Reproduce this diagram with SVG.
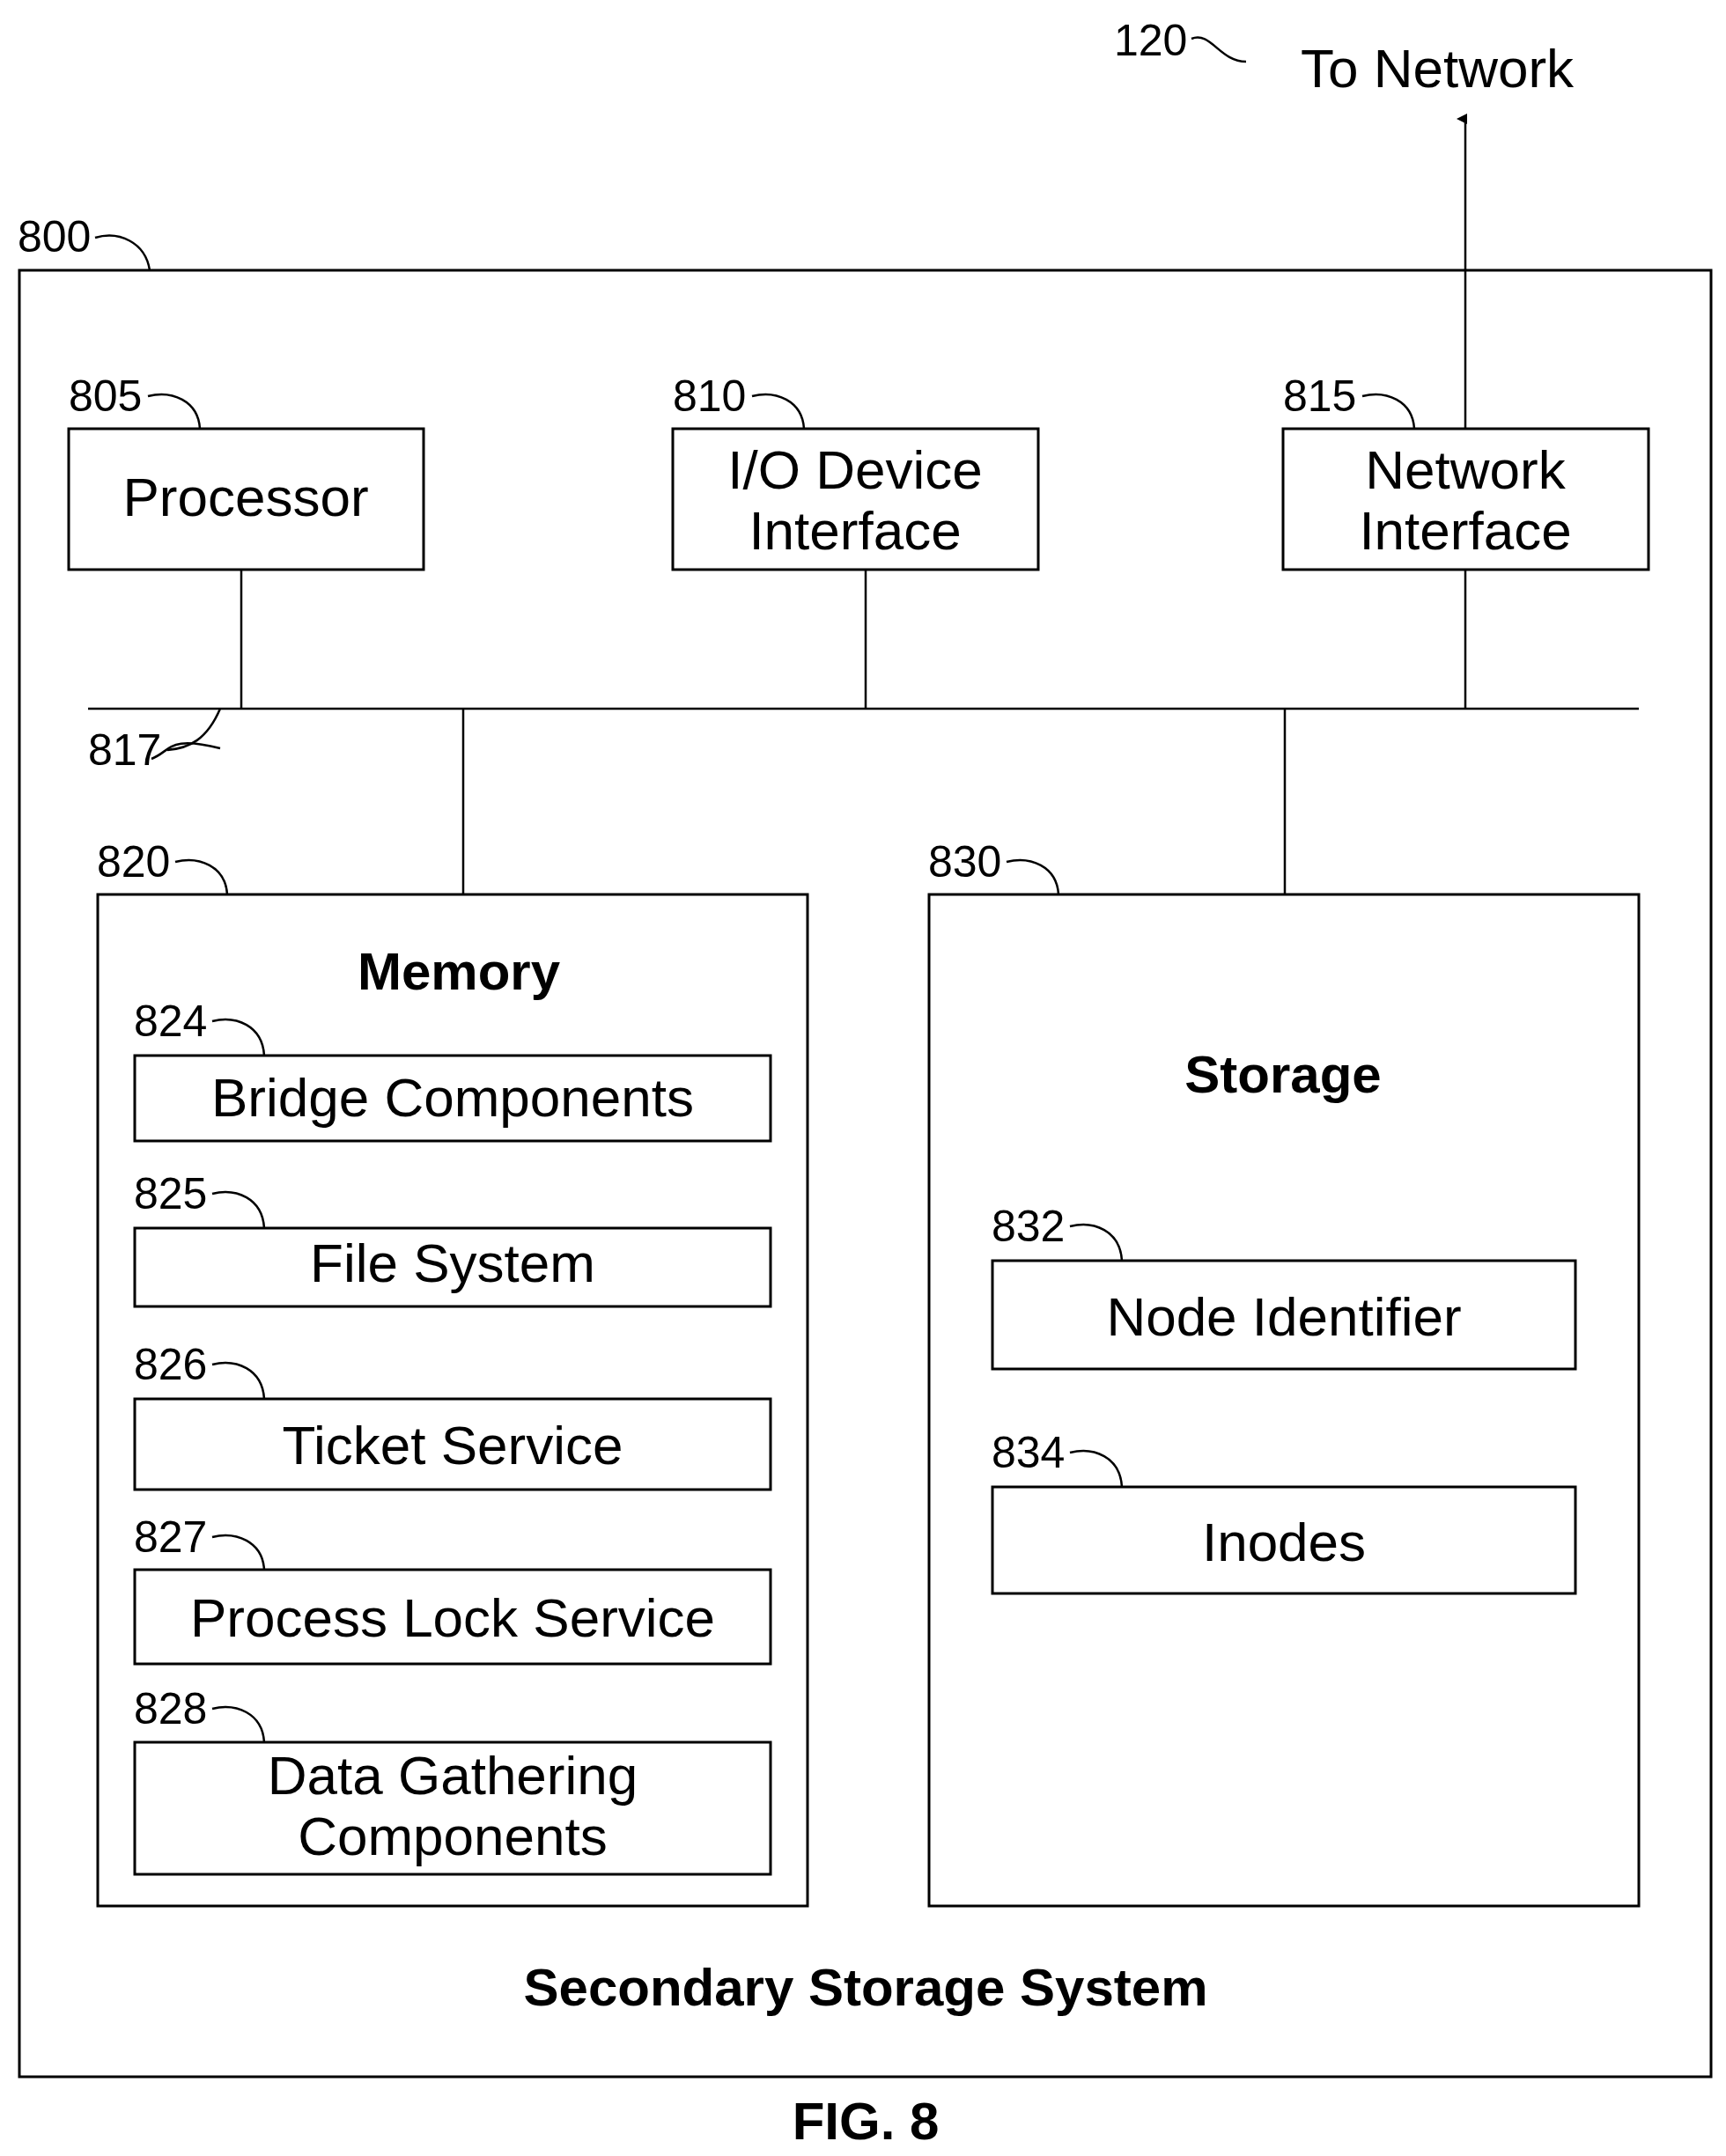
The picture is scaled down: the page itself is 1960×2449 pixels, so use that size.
<svg xmlns="http://www.w3.org/2000/svg" width="1960" height="2449" viewBox="0 0 1960 2449">
<style>
.b{fill:none;stroke:#000;stroke-width:3}
.l{fill:none;stroke:#000;stroke-width:2.5}
.n{font-family:"Liberation Sans",Arial,sans-serif;font-size:50px;fill:#000}
.t{font-family:"Liberation Sans",Arial,sans-serif;font-size:62px;fill:#000;text-anchor:middle}
.h{font-family:"Liberation Sans",Arial,sans-serif;font-size:60px;font-weight:bold;fill:#000;text-anchor:middle}
</style>
<defs><marker id="a" markerWidth="12" markerHeight="12" refX="6" refY="10" orient="auto" markerUnits="userSpaceOnUse" viewBox="0 0 12 12"><path d="M0,12 L6,0 L12,12 Z" fill="#000"/></marker></defs>
<rect width="1960" height="2449" fill="#fff"/>
<g id="connectors">
<path class="l" d="M274,647V805M983,647V805M1664,647V805M100,805H1861M526,805V1016M1459,805V1016"/>
<path class="l" d="M1664,487V135" marker-end="url(#a)"/>
<path class="l" d="M172,817 C195,808 190,790 250,805" transform="translate(0,45) rotate(0)"/>
</g>
<g id="n800"><rect class="b" x="22" y="307" width="1921" height="2052"/><text class="n" x="20" y="286">800</text><path class="l" d="M108,270 C135,262 165,275 170,307"/>
<text class="h" x="983" y="2278">Secondary Storage System</text></g>
<g id="n120"><text class="n" x="1265" y="63">120</text><path class="l" d="M1353,44 C1375,35 1385,70 1415,70"/><text class="t" x="1477" y="99" text-anchor="start" style="text-anchor:start">To Network</text></g>
<g id="n805"><rect class="b" x="78" y="487" width="403" height="160"/><text class="t" x="279" y="586">Processor</text><text class="n" x="78" y="467">805</text><path class="l" d="M168,450 C195,443 225,455 227,487"/></g>
<g id="n810"><rect class="b" x="764" y="487" width="415" height="160"/><text class="t" x="971" y="555">I/O Device</text><text class="t" x="971" y="624">Interface</text><text class="n" x="764" y="467">810</text><path class="l" d="M854,450 C881,443 911,455 913,487"/></g>
<g id="n815"><rect class="b" x="1457" y="487" width="415" height="160"/><text class="t" x="1664" y="555">Network</text><text class="t" x="1664" y="624">Interface</text><text class="n" x="1457" y="467">815</text><path class="l" d="M1547,450 C1574,443 1604,455 1606,487"/></g>
<g id="n817"><text class="n" x="100" y="869">817</text><path class="l" d="M190,852 C215,850 235,840 250,805"/></g>
<g id="n820"><rect class="b" x="111" y="1016" width="806" height="1149"/><text class="h" x="521" y="1124">Memory</text><text class="n" x="110" y="996">820</text><path class="l" d="M199,979 C226,972 256,984 258,1016"/></g>
<g id="n824"><rect class="b" x="153" y="1199" width="722" height="97"/><text class="t" x="514" y="1268">Bridge Components</text><text class="n" x="152" y="1177">824</text><path class="l" d="M241,1160 C268,1153 298,1165 300,1199"/></g>
<g id="n825"><rect class="b" x="153" y="1395" width="722" height="89"/><text class="t" x="514" y="1456">File System</text><text class="n" x="152" y="1373">825</text><path class="l" d="M241,1356 C268,1349 298,1361 300,1395"/></g>
<g id="n826"><rect class="b" x="153" y="1589" width="722" height="103"/><text class="t" x="514" y="1663">Ticket Service</text><text class="n" x="152" y="1567">826</text><path class="l" d="M241,1550 C268,1543 298,1555 300,1589"/></g>
<g id="n827"><rect class="b" x="153" y="1783" width="722" height="107"/><text class="t" x="514" y="1859">Process Lock Service</text><text class="n" x="152" y="1763">827</text><path class="l" d="M241,1746 C268,1739 298,1751 300,1783"/></g>
<g id="n828"><rect class="b" x="153" y="1979" width="722" height="150"/><text class="t" x="514" y="2038">Data Gathering</text><text class="t" x="514" y="2107">Components</text><text class="n" x="152" y="1958">828</text><path class="l" d="M241,1941 C268,1934 298,1946 300,1979"/></g>
<g id="n830"><rect class="b" x="1055" y="1016" width="806" height="1149"/><text class="h" x="1457" y="1241">Storage</text><text class="n" x="1054" y="996">830</text><path class="l" d="M1143,979 C1170,972 1200,984 1202,1016"/></g>
<g id="n832"><rect class="b" x="1127" y="1432" width="662" height="123"/><text class="t" x="1458" y="1517">Node Identifier</text><text class="n" x="1126" y="1410">832</text><path class="l" d="M1215,1393 C1242,1386 1272,1398 1274,1432"/></g>
<g id="n834"><rect class="b" x="1127" y="1689" width="662" height="121"/><text class="t" x="1458" y="1773">Inodes</text><text class="n" x="1126" y="1667">834</text><path class="l" d="M1215,1650 C1242,1643 1272,1655 1274,1689"/></g>
<text class="h" x="983" y="2430">FIG. 8</text>
</svg>
